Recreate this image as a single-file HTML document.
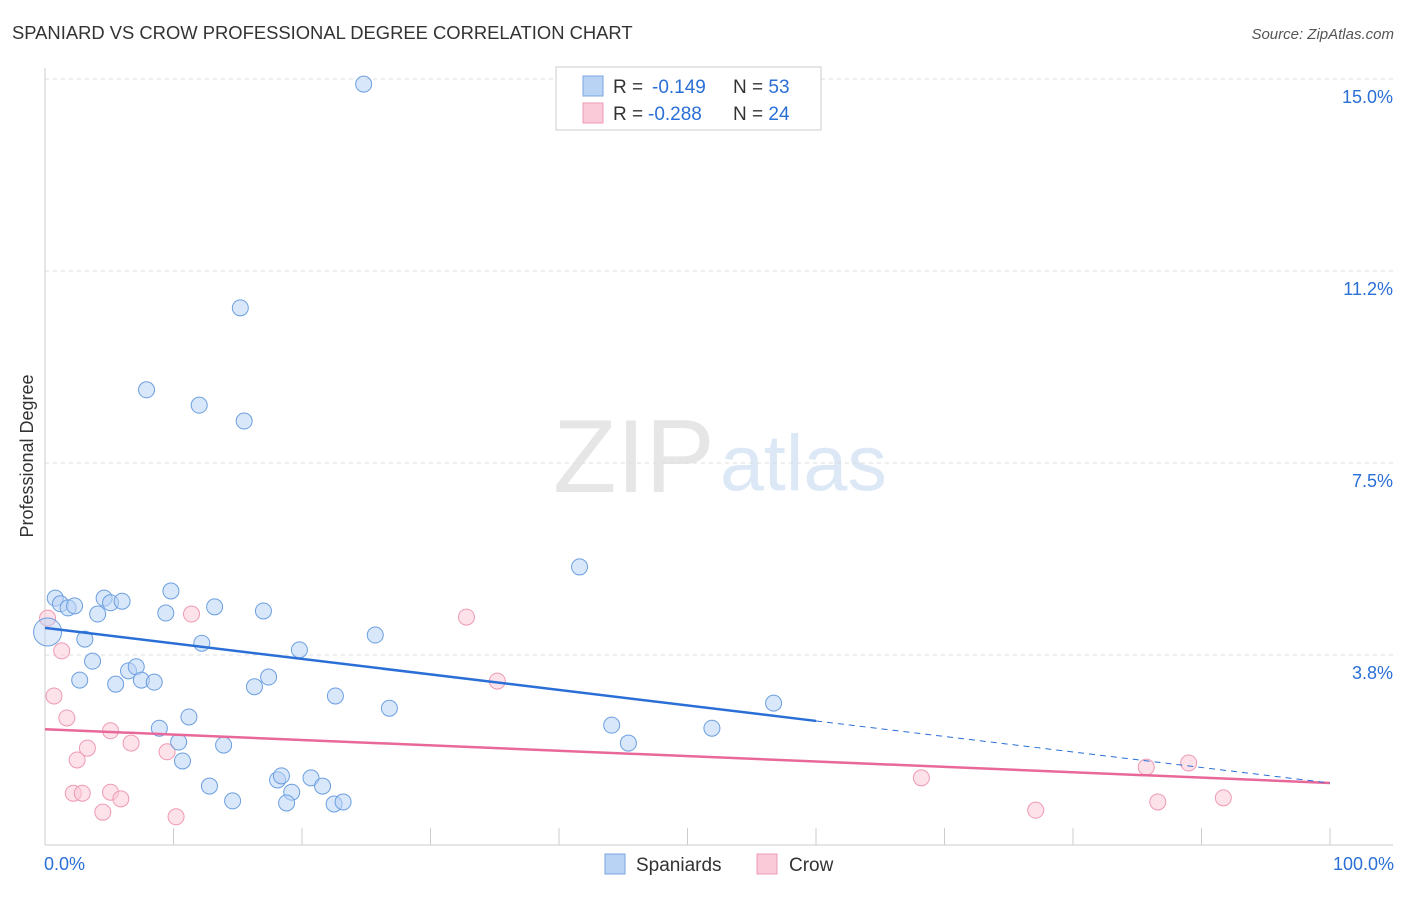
<!DOCTYPE html>
<html><head><meta charset="utf-8"><style>
body{margin:0;background:#fff;font-family:"Liberation Sans",sans-serif;}
svg text{font-family:"Liberation Sans",sans-serif;}
</style></head><body>
<svg id="c" width="1406" height="892">
<text x="12" y="39" font-size="18.4" fill="#333">SPANIARD VS CROW PROFESSIONAL DEGREE CORRELATION CHART</text>
<text x="1394" y="39" font-size="15" fill="#555" font-style="italic" text-anchor="end">Source: ZipAtlas.com</text>
<text x="33" y="456" font-size="18" fill="#333" transform="rotate(-90 33 456)" text-anchor="middle">Professional Degree</text>
<text x="553" y="492" font-size="104" fill="#e6e6e6" font-family="Liberation Serif">ZIP</text>
<text x="720" y="490" font-size="79" fill="#dce8f6">atlas</text>
<g id="grid"></g><g id="marks"></g>
<g>
<rect x="556" y="67" width="265" height="63" fill="#fff" stroke="#ccc"/>
<rect x="583" y="76" width="20" height="20" fill="#b9d3f5" stroke="#7aa6e0"/>
<rect x="583" y="103" width="20" height="20" fill="#fbcad8" stroke="#ee9ab4"/>
<text x="613" y="93" font-size="19" fill="#333">R = <tspan x="652" fill="#2a6fd6">-0.149</tspan><tspan x="733">N = </tspan><tspan fill="#2a6fd6">53</tspan></text>
<text x="613" y="120" font-size="19" fill="#333">R = <tspan x="648" fill="#2a6fd6">-0.288</tspan><tspan x="733">N = </tspan><tspan fill="#2a6fd6">24</tspan></text>
</g>
<g>
<rect x="605" y="854" width="20" height="20" fill="#b9d3f5" stroke="#7aa6e0"/>
<text x="636" y="871" font-size="19" fill="#333">Spaniards</text>
<rect x="757" y="854" width="20" height="20" fill="#fbcad8" stroke="#ee9ab4"/>
<text x="789" y="871" font-size="19" fill="#333">Crow</text>
</g>
</svg>
<script>
const yTicks=[15.0,11.2,7.5,3.8];
const yTickVals=[15,11.25,7.5,3.75];
const xTickLabels=["0.0%","100.0%"];
const blueX=[24.8,15.2,7.9,12.0,15.5,41.6,0.8,1.2,1.8,2.3,4.6,5.1,6.0,4.1,9.4,9.8,13.2,17.0,25.7,3.1,12.2,19.8,3.7,6.5,7.1,2.7,5.5,7.5,8.5,17.4,16.3,22.6,26.8,56.7,44.1,51.9,8.9,11.2,45.4,10.4,13.9,10.7,12.8,14.6,18.1,18.4,19.2,18.8,20.7,21.6,22.5,23.2,0.2];
const blueY=[14.9,10.53,8.93,8.63,8.32,5.47,4.86,4.75,4.67,4.71,4.86,4.77,4.80,4.55,4.57,5.0,4.69,4.61,4.14,4.06,3.98,3.85,3.63,3.44,3.52,3.26,3.18,3.26,3.22,3.32,3.13,2.95,2.71,2.81,2.38,2.32,2.32,2.54,2.03,2.05,1.99,1.68,1.19,0.90,1.31,1.39,1.07,0.86,1.35,1.19,0.84,0.88,4.2];
const pinkX=[0.2,1.3,0.7,1.7,5.1,6.7,3.3,2.5,9.5,11.4,32.8,35.2,2.2,2.9,5.1,5.9,4.5,10.2,68.2,77.1,85.7,86.6,89.0,91.7];
const pinkY=[4.47,3.83,2.95,2.52,2.27,2.03,1.93,1.70,1.86,4.55,4.49,3.24,1.05,1.05,1.07,0.94,0.68,0.59,1.35,0.72,1.56,0.88,1.64,0.96];
const blueTrend=[4.28,1.25];
const pinkTrend=[2.30,1.25];
const blueSolidEnd=60;
const NS="http://www.w3.org/2000/svg";
const X=v=>45+v*12.85, Y=v=>847-v*51.2;
const grid=document.getElementById('grid'), marks=document.getElementById('marks');
function mk(tag,attrs,parent){const e=document.createElementNS(NS,tag);for(const k in attrs)e.setAttribute(k,attrs[k]);parent.appendChild(e);return e;}
mk('line',{x1:45,y1:68,x2:45,y2:845,stroke:'#ccc'},grid);
mk('line',{x1:45,y1:845,x2:1393,y2:845,stroke:'#ccc'},grid);
yTickVals.forEach((v,i)=>{
 const l=mk('line',{x1:45,y1:Y(v),x2:1393,y2:Y(v),stroke:'#ddd','stroke-dasharray':'4,4'},grid);
 
 
 const t=mk('text',{x:1393,y:Y(v)+24,'font-size':18,fill:'#2a6fd6','text-anchor':'end'},grid);
 t.textContent=yTicks[i].toFixed(1)+'%';
 
 
});
for(let i=0;i<=10;i++){
 const tk=mk('line',{x1:X(i*10),y1:828,x2:X(i*10),y2:845,stroke:'#ccc'},grid);
 
 
}
[[0,'start',44],[100,'end',1394]].forEach((a,i)=>{
 const t=mk('text',{x:a[2],y:870,'font-size':18,fill:'#2a6fd6','text-anchor':a[1]},grid);
 t.textContent=xTickLabels[i];
 
 
});
function pts(xs,ys,fill,stroke,name){
 xs.forEach((x,i)=>{
  const big=(name==='spaniard-point'&&i===xs.length-1);
  const c=mk('circle',{cx:X(x),cy:Y(ys[i]),r:big?14:8,fill:fill,'fill-opacity':big?0.45:0.55,stroke:stroke,'stroke-width':1},marks);
  
  
 });
}
pts(pinkX,pinkY,'#fbcad8','#ee9ab4','crow-point');
pts(blueX,blueY,'#b9d3f5','#6b9fe0','spaniard-point');
const bAt=x=>blueTrend[0]+(blueTrend[1]-blueTrend[0])*x/100;
const pAt=x=>pinkTrend[0]+(pinkTrend[1]-pinkTrend[0])*x/100;
let l=mk('line',{x1:X(0),y1:Y(pAt(0)),x2:X(100),y2:Y(pAt(100)),stroke:'#e8689a','stroke-width':2.5},marks);


l=mk('line',{x1:X(0),y1:Y(bAt(0)),x2:X(blueSolidEnd),y2:Y(bAt(blueSolidEnd)),stroke:'#2a6fd6','stroke-width':2.5},marks);


l=mk('line',{x1:X(blueSolidEnd),y1:Y(bAt(blueSolidEnd)),x2:X(100),y2:Y(bAt(100)),stroke:'#2a6fd6','stroke-width':1,'stroke-dasharray':'6,5'},marks);


</script>
</body></html>
